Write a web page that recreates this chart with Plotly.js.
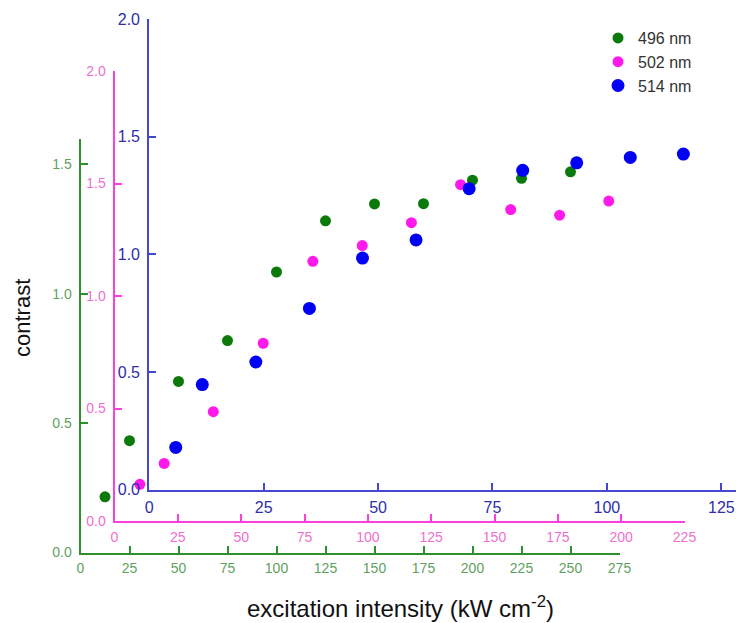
<!DOCTYPE html>
<html>
<head>
<meta charset="utf-8">
<script src="https://cdn.plot.ly/plotly-3.0.1.min.js"></script>
<style>html,body{margin:0;padding:0;background:#fff;}#chart{width:736px;height:623px;}</style>
</head>
<body>
<div id="chart"></div>
<script>
// 496 nm (green axes)
const x496 = [12.5, 25, 50, 75, 100, 125, 150, 175, 200, 225, 250];
const y496 = [0.215, 0.432, 0.661, 0.819, 1.084, 1.282, 1.347, 1.348, 1.439, 1.446, 1.471];
// 502 nm (pink axes)
const x502 = [10.0, 19.6, 39.0, 58.7, 78.3, 97.8, 117.2, 136.6, 156.4, 175.7, 195.1];
const y502 = [0.163, 0.256, 0.486, 0.790, 1.154, 1.224, 1.326, 1.495, 1.384, 1.359, 1.422];
// 514 nm (blue axes)
const x514 = [5.8, 11.6, 23.3, 35.0, 46.6, 58.3, 69.9, 81.6, 93.4, 105.1, 116.7];
const y514 = [0.179, 0.446, 0.542, 0.770, 0.984, 1.061, 1.279, 1.357, 1.389, 1.412, 1.426];

const seriesNames = ['496 nm', '502 nm', '514 nm'];
const xTitle = 'excitation intensity (kW cm<sup>-2</sup>)';
const yTitle = 'contrast';

const W = 736, H = 623;
const px = v => v / W;
const py = v => 1 - v / H;

const green = '#2f8f2f', greenTxt = '#5f9f5f';
const pink = '#ff3fdc', pinkTxt = '#ef6fd0';
const blue = '#4646d0', blueTxt = '#2e2eaa';

function axisStyle(lineColor, txtColor, size, extra) {
  return Object.assign({
    showline: true, linecolor: lineColor, linewidth: 2,
    ticks: 'inside', ticklen: 7, tickwidth: 2, tickcolor: lineColor,
    showgrid: false, zeroline: false, fixedrange: true,
    tickfont: {family: 'Liberation Sans, Arial, sans-serif', size: size, color: txtColor}
  }, extra);
}

const traces = [
  {x: x496, y: y496, xaxis: 'x', yaxis: 'y', name: seriesNames[0],
   mode: 'markers', type: 'scatter', marker: {color: '#0b7a0b', size: 11}},
  {x: x502, y: y502, xaxis: 'x2', yaxis: 'y2', name: seriesNames[1],
   mode: 'markers', type: 'scatter', marker: {color: '#ff1aeb', size: 11}},
  {x: x514, y: y514, xaxis: 'x3', yaxis: 'y3', name: seriesNames[2],
   mode: 'markers', type: 'scatter', marker: {color: '#0000f5', size: 13}}
];

const layout = {
  width: W, height: H,
  margin: {l: 0, r: 0, t: 0, b: 0},
  paper_bgcolor: '#fff', plot_bgcolor: 'rgba(0,0,0,0)',
  showlegend: true,
  legend: {x: px(598), y: py(21), xanchor: 'left', yanchor: 'top',
    bgcolor: 'rgba(0,0,0,0)', traceorder: 'normal',
    font: {family: 'Liberation Sans, Arial, sans-serif', size: 16, color: '#333'}},
  xaxis: axisStyle(green, greenTxt, 14, {domain: [px(80.5), px(619.5)], range: [0, 275], dtick: 25, tick0: 0, anchor: 'y', ticklabelstandoff: 2}),
  yaxis: axisStyle(green, greenTxt, 14, {domain: [py(552.5), py(139)], range: [0, 1.598], dtick: 0.5, tick0: 0, tickformat: '.1f', anchor: 'x', ticklabelstandoff: 4}),
  xaxis2: axisStyle(pink, pinkTxt, 14, {domain: [px(114.5), px(684.5)], range: [0, 225], dtick: 25, tick0: 0, anchor: 'y2', ticklabelstandoff: 2}),
  yaxis2: axisStyle(pink, pinkTxt, 14, {domain: [py(521), py(71)], range: [0, 2], dtick: 0.5, tick0: 0, tickformat: '.1f', anchor: 'x2', ticklabelstandoff: 4}),
  xaxis3: axisStyle(blue, blueTxt, 16, {domain: [px(149.2), 1], range: [0, 128.2], dtick: 25, tick0: 0, anchor: 'y3', ticklabelstandoff: 2}),
  yaxis3: axisStyle(blue, blueTxt, 16, {domain: [py(489.5), py(19.1)], range: [0, 2], dtick: 0.5, tick0: 0, tickformat: '.1f', anchor: 'x3', ticklabelstandoff: 4}),
  annotations: [
    {text: xTitle, xref: 'paper', yref: 'paper', x: px(400), y: py(607), xanchor: 'center', yanchor: 'middle',
     showarrow: false, font: {family: 'Liberation Sans, Arial, sans-serif', size: 24, color: '#111'}},
    {text: yTitle, xref: 'paper', yref: 'paper', x: px(22), y: py(318), xanchor: 'center', yanchor: 'middle',
     textangle: -90, showarrow: false, font: {family: 'Liberation Sans, Arial, sans-serif', size: 22, color: '#111'}}
  ]
};

Plotly.newPlot('chart', traces, layout, {displayModeBar: false, staticPlot: true});
</script>
</body>
</html>
